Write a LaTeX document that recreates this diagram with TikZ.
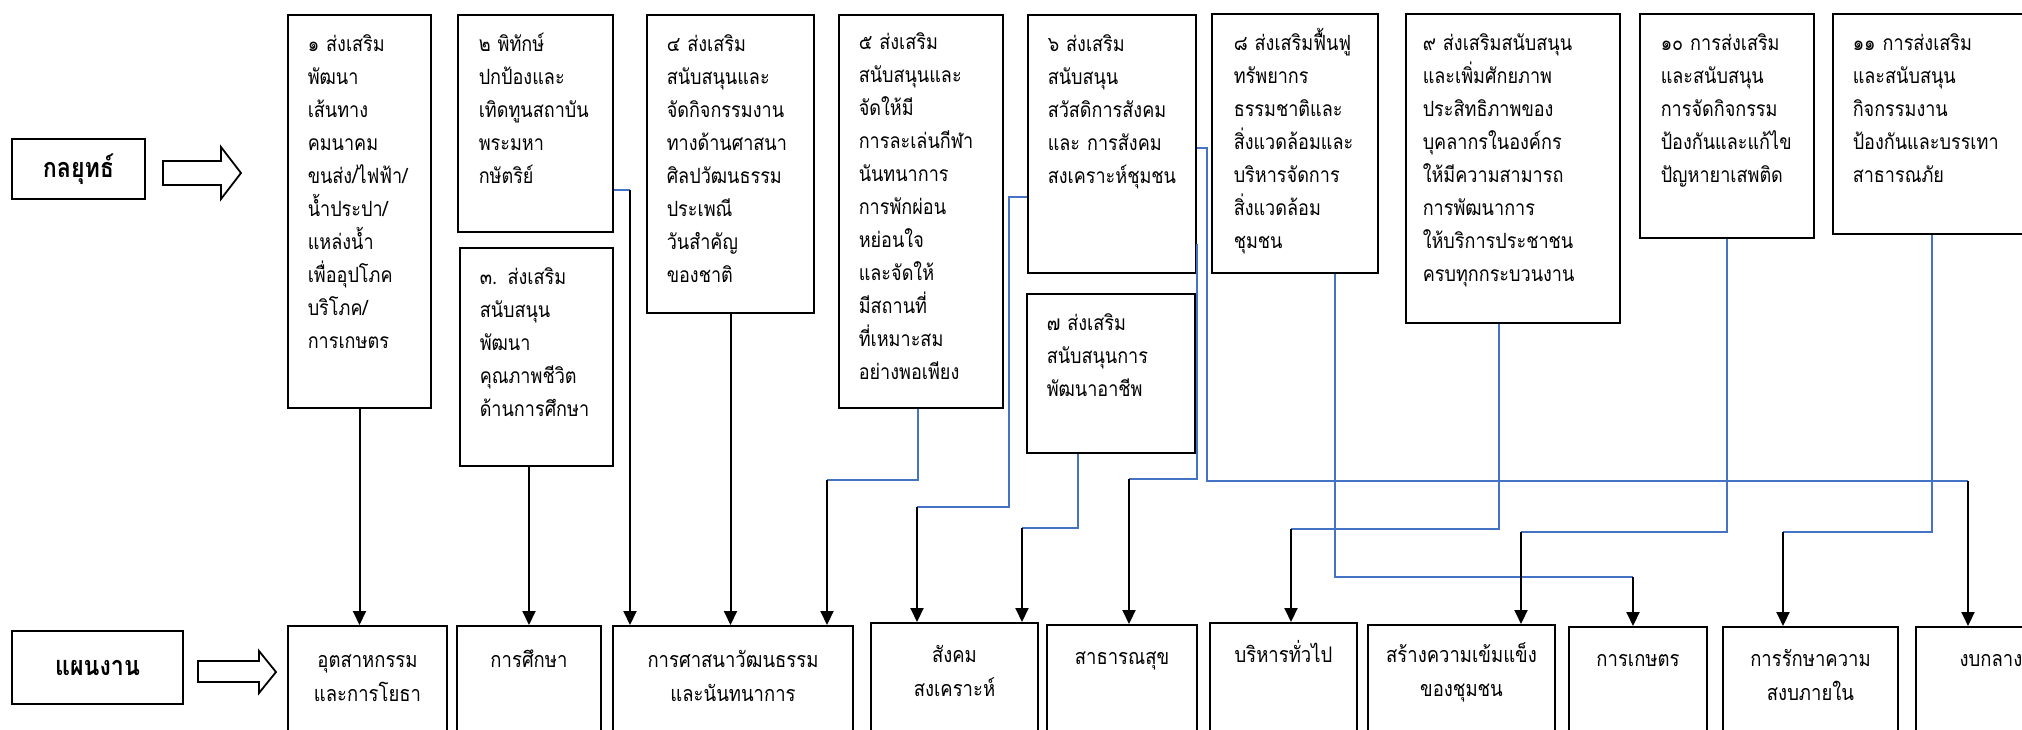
\documentclass[tikz,border=0pt]{standalone}
\usepackage{fontspec}
\setmainfont[Script=Thai, FakeStretch=0.86]{Loma}
\usepackage{tikz}
\usetikzlibrary{arrows.meta, positioning}
\definecolor{linkblue}{RGB}{68,114,196}

\begin{document}
\begin{tikzpicture}[x=1pt, y=-1pt, >={Triangle[length=14pt, width=13pt]}, line width=1.5pt,
	box/.style={draw, line width=2pt, anchor=north west, inner sep=0pt},
	plan/.style={box, minimum height=140},
	txt/.style={anchor=base west, text width=200pt, align=left, inner sep=0pt, font=\fontsize{21}{33}\selectfont},
	plantxt/.style={anchor=base, text width=240pt, align=center, inner sep=0pt, font=\fontsize{21.5}{34}\selectfont},
	head/.style={box, font=\bfseries\fontsize{27}{30}\selectfont},
	hollow/.style={draw, line width=1.8pt, fill=white},
	link/.style={draw=linkblue, line width=1.6pt},
	arr/.style={->, draw=black, line width=2pt}]
	\path[use as bounding box, clip] (0,0) rectangle (2022,729);

	% headings
	\node[head, minimum width=133, minimum height=60] (h1) at (11,138) {กลยุทธ์};
	\node[head, minimum width=171, minimum height=73] (h2) at (11,630) {แผนงาน};
	\draw[hollow] (163,161) -- (221,161) -- (221,147) -- (241,173) -- (221,199) -- (221,185) -- (163,185) -- cycle;
	\draw[hollow] (198,661) -- (259,661) -- (259,651) -- (276,672) -- (259,693) -- (259,682) -- (198,682) -- cycle;

	% strategies
	\node[box, minimum width=143, minimum height=393] (s1) at (287,14) {};
	\node[box, minimum width=155, minimum height=217] (s2) at (457,14) {};
	\node[box, minimum width=153, minimum height=218] (s3) at (459,247) {};
	\node[box, minimum width=167, minimum height=298] (s4) at (646,14) {};
	\node[box, minimum width=164, minimum height=393] (s5) at (838,14) {};
	\node[box, minimum width=168, minimum height=258] (s6) at (1027,14) {};
	\node[box, minimum width=168, minimum height=159] (s7) at (1026,293) {};
	\node[box, minimum width=166, minimum height=259] (s8) at (1211,13) {};
	\node[box, minimum width=214, minimum height=309] (s9) at (1405,13) {};
	\node[box, minimum width=174, minimum height=224] (s10) at (1639,13) {};
	\node[box, minimum width=220, minimum height=220] (s11) at (1832,13) {};

	\node[txt] (s1t) at ([xshift=20pt,yshift=-37pt]s1.north west) {๑ ส่งเสริม\\พัฒนา\\เส้นทาง\\คมนาคม\\ขนส่ง/ไฟฟ้า/\\น้ำประปา/\\แหล่งน้ำ\\เพื่ออุปโภค\\บริโภค/\\การเกษตร};
	\node[txt] (s2t) at ([xshift=21pt,yshift=-37pt]s2.north west) {๒ พิทักษ์\\ปกป้องและ\\เทิดทูนสถาบัน\\พระมหา\\กษัตริย์};
	\node[txt] (s3t) at ([xshift=20pt,yshift=-37pt]s3.north west) {๓. ส่งเสริม\\สนับสนุน\\พัฒนา\\คุณภาพชีวิต\\ด้านการศึกษา};
	\node[txt] (s4t) at ([xshift=20pt,yshift=-37pt]s4.north west) {๔ ส่งเสริม\\สนับสนุนและ\\จัดกิจกรรมงาน\\ทางด้านศาสนา\\ศิลปวัฒนธรรม\\ประเพณี\\วันสำคัญ\\ของชาติ};
	\node[txt] (s5t) at ([xshift=20pt,yshift=-35pt]s5.north west) {๕ ส่งเสริม\\สนับสนุนและ\\จัดให้มี\\การละเล่นกีฬา\\นันทนาการ\\การพักผ่อน\\หย่อนใจ\\และจัดให้\\มีสถานที่\\ที่เหมาะสม\\อย่างพอเพียง};
	\node[txt] (s6t) at ([xshift=20pt,yshift=-37pt]s6.north west) {๖ ส่งเสริม\\สนับสนุน\\สวัสดิการสังคม\\และ การสังคม\\สงเคราะห์ชุมชน};
	\node[txt] (s7t) at ([xshift=20pt,yshift=-37pt]s7.north west) {๗ ส่งเสริม\\สนับสนุนการ\\พัฒนาอาชีพ};
	\node[txt] (s8t) at ([xshift=22pt,yshift=-37pt]s8.north west) {๘ ส่งเสริมฟื้นฟู\\ทรัพยากร\\ธรรมชาติและ\\สิ่งแวดล้อมและ\\บริหารจัดการ\\สิ่งแวดล้อม\\ชุมชน};
	\node[txt] (s9t) at ([xshift=17pt,yshift=-37pt]s9.north west) {๙ ส่งเสริมสนับสนุน\\และเพิ่มศักยภาพ\\ประสิทธิภาพของ\\บุคลากรในองค์กร\\ให้มีความสามารถ\\การพัฒนาการ\\ให้บริการประชาชน\\ครบทุกกระบวนงาน};
	\node[txt] (s10t) at ([xshift=21pt,yshift=-37pt]s10.north west) {๑๐ การส่งเสริม\\และสนับสนุน\\การจัดกิจกรรม\\ป้องกันและแก้ไข\\ปัญหายาเสพติด};
	\node[txt] (s11t) at ([xshift=20pt,yshift=-37pt]s11.north west) {๑๑ การส่งเสริม\\และสนับสนุน\\กิจกรรมงาน\\ป้องกันและบรรเทา\\สาธารณภัย};

	% plans
	\node[plan, minimum width=159] (p1) at (287,625) {};
	\node[plan, minimum width=144] (p2) at (456,625) {};
	\node[plan, minimum width=240] (p3) at (612,625) {};
	\node[plan, minimum width=167] (p4) at (870,622) {};
	\node[plan, minimum width=150] (p5) at (1046,624) {};
	\node[plan, minimum width=147] (p6) at (1209,622) {};
	\node[plan, minimum width=187] (p7) at (1367,624) {};
	\node[plan, minimum width=138] (p8) at (1568,626) {};
	\node[plan, minimum width=175] (p9) at (1722,626) {};
	\node[plan, minimum width=150] (p10) at (1915,626) {};

	\node[plantxt] (p1t) at ([yshift=-42pt]p1.north) {อุตสาหกรรม\\และการโยธา};
	\node[plantxt] (p2t) at ([yshift=-42pt]p2.north) {การศึกษา};
	\node[plantxt] (p3t) at ([yshift=-42pt]p3.north) {การศาสนาวัฒนธรรม\\และนันทนาการ};
	\node[plantxt] (p4t) at ([yshift=-40pt]p4.north) {สังคม\\สงเคราะห์};
	\node[plantxt] (p5t) at ([yshift=-40pt]p5.north) {สาธารณสุข};
	\node[plantxt] (p6t) at ([yshift=-40pt]p6.north) {บริหารทั่วไป};
	\node[plantxt] (p7t) at ([yshift=-38pt]p7.north) {สร้างความเข้มแข็ง\\ของชุมชน};
	\node[plantxt] (p8t) at ([yshift=-40pt]p8.north) {การเกษตร};
	\node[plantxt] (p9t) at ([yshift=-40pt]p9.north) {การรักษาความ\\สงบภายใน};
	\node[plantxt] (p10t) at ([yshift=-40pt]p10.north) {งบกลาง};

	% junctions
	\coordinate (c2) at (630,190);
	\coordinate (c5) at (827,480);
	\coordinate (c6) at (1009,197);
	\coordinate (d6) at (917,507);
	\coordinate (c7) at (1022,528);
	\coordinate (e6) at (1129,479);
	\coordinate (f6) at (1207,148);
	\coordinate (g6) at (1968,481);
	\coordinate (c8) at (1633,577);
	\coordinate (c9) at (1291,529);
	\coordinate (c10) at (1521,532);
	\coordinate (c11) at (1783,532);

	% blue elbows
	\draw[link] (s2.east |- c2) -- (c2);
	\draw[link] ([xshift=-3pt]s5.south) |- (c5);
	\draw[link] (s6.west |- c6) -- (c6) |- (d6);
	\draw[link] ([xshift=-33pt]s7.south) |- (c7);
	\draw[link] ([yshift=30pt]s6.south east) |- (e6);
	\draw[link] (s6.east |- f6) -- (f6) |- (g6);
	\draw[link] ([xshift=40pt]s8.south) |- (c8);
	\draw[link] ([xshift=-14pt]s9.south) |- (c9);
	\draw[link] (s10.south) |- (c10);
	\draw[link] ([xshift=-11pt]s11.south) |- (c11);

	% arrows into plans
	\draw[arr] (s1.south) -- (s1.south |- p1.north);
	\draw[arr] (p2.north |- s3.south) -- (p2.north);
	\draw[arr] (c2) -- (c2 |- p3.north);
	\draw[arr] (s4.south) -- (s4.south |- p3.north);
	\draw[arr] (c5) -- (c5 |- p3.north);
	\draw[arr] (d6) -- (d6 |- p4.north);
	\draw[arr] (c7) -- (c7 |- p4.north);
	\draw[arr] (e6) -- (e6 |- p5.north);
	\draw[arr] (c9) -- (c9 |- p6.north);
	\draw[arr] (c10) -- (c10 |- p7.north);
	\draw[arr] (c8) -- (c8 |- p8.north);
	\draw[arr] (c11) -- (c11 |- p9.north);
	\draw[arr] (g6) -- (g6 |- p10.north);
\end{tikzpicture}
\end{document}
